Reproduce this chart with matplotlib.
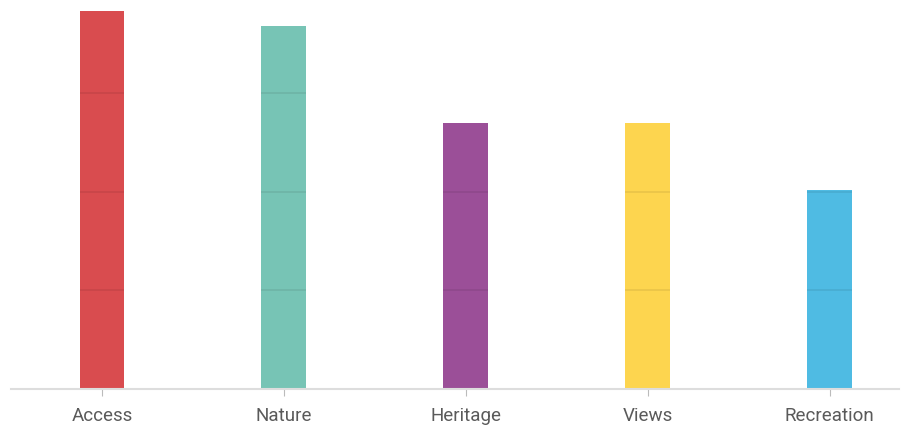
import matplotlib.pyplot as plt
import numpy as np

categories = ["Access", "Nature", "Heritage", "Views", "Recreation"]
values = [38.3, 36.8, 27.0, 27.0, 20.2]
colors = ["#D94C4F", "#77C4B5", "#9B4F98", "#FDD54F", "#4FBBE3"]
grid_levels = [10, 20, 30]

fig = plt.figure(figsize=(9.07, 4.26), dpi=100)
ax = fig.add_axes([11 / 907, 37 / 426, 888 / 907, 378 / 426])

x = np.arange(len(categories))
width = 0.247
ax.bar(x, values, width=width, color=colors, zorder=2)

# grid lines only show through the bars
for xi, v in zip(x, values):
    for g in grid_levels:
        if g < v:
            ax.hlines(g, xi - width / 2, xi + width / 2, color="black",
                      alpha=0.08, lw=1.2, zorder=3)

ax.set_xlim(-0.5, 4.38)
ax.set_ylim(0, 38.3)
ax.set_yticks([])
ax.set_xticks(x)
ax.set_xticklabels(categories, fontsize=13.5, color="#5a5a5a",
                   family=["Roboto", "DejaVu Sans"])
ax.tick_params(axis="x", length=5, color="#bbbbbb", pad=8)

for side in ["top", "right", "left"]:
    ax.spines[side].set_visible(False)
ax.spines["bottom"].set_color("#dddddd")
ax.spines["bottom"].set_linewidth(1.5)

fig.savefig("out.png", dpi=100)
